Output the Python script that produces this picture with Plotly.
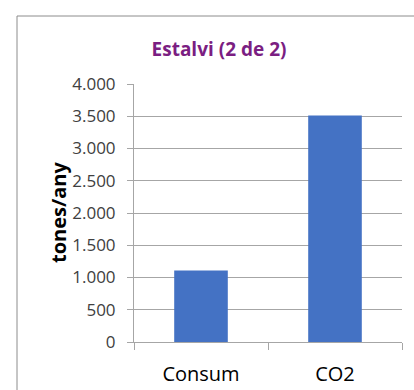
import plotly.graph_objects as go

categories = ["Consum", "CO2"]
values = [1110, 3510]
y_ticks = [0, 500, 1000, 1500, 2000, 2500, 3000, 3500, 4000]

W, H = 414, 390
L, R, T, B = 134, 12, 84, 48
pw, ph = W - L - R, H - T - B

fig = go.Figure(go.Bar(x=categories, y=values, marker_color="#4472C4",
                       marker_line_width=0))

grid = "#A6A6A6"
fig.update_layout(
    width=W, height=H,
    margin=dict(l=L, r=R, t=T, b=B, autoexpand=False),
    paper_bgcolor="white", plot_bgcolor="white",
    separators=",.",
    bargap=0.6,
    showlegend=False,
    title=dict(text="<b>Estalvi (2 de 2)</b>", x=(219 - L) / pw, xref="paper",
               xanchor="center", y=1 - 49 / H, yanchor="middle",
               font=dict(family="Open Sans", size=19, color="#7B1E82")),
    font=dict(family="Open Sans", color="#404040"),
)
fig.update_yaxes(
    range=[0, 4000], tickvals=y_ticks, tickformat=",",
    showgrid=True, gridcolor=grid, gridwidth=1,
    showline=True, linecolor=grid, linewidth=1,
    ticks="outside", ticklen=6, tickcolor=grid,
    ticklabelstandoff=8, automargin=False,
    tickfont=dict(size=17, color="#404040"),
    zeroline=False,
)
fig.update_xaxes(
    showline=True, linecolor=grid, linewidth=1,
    ticks="outside", tickson="boundaries", ticklen=7, tickcolor=grid,
    ticklabelstandoff=14, automargin=False,
    tickfont=dict(size=20, color="black"),
)
# y-axis title
fig.add_annotation(text="<b>tones/any</b>", textangle=-90, showarrow=False,
                   xref="paper", yref="paper",
                   x=(58 - L) / pw, y=(H - B - 213) / ph,
                   xanchor="center", yanchor="middle",
                   font=dict(family="Open Sans", size=20, color="black"))
# outer chart frame
fig.add_shape(type="rect", xref="paper", yref="paper",
              x0=(17 - L) / pw, x1=(W + 5 - L) / pw,
              y0=(H - B - (H + 5)) / ph, y1=(H - B - 16) / ph,
              line=dict(color="#8C8C8C", width=1), fillcolor="rgba(0,0,0,0)",
              layer="below")
fig.write_html("out.html")
